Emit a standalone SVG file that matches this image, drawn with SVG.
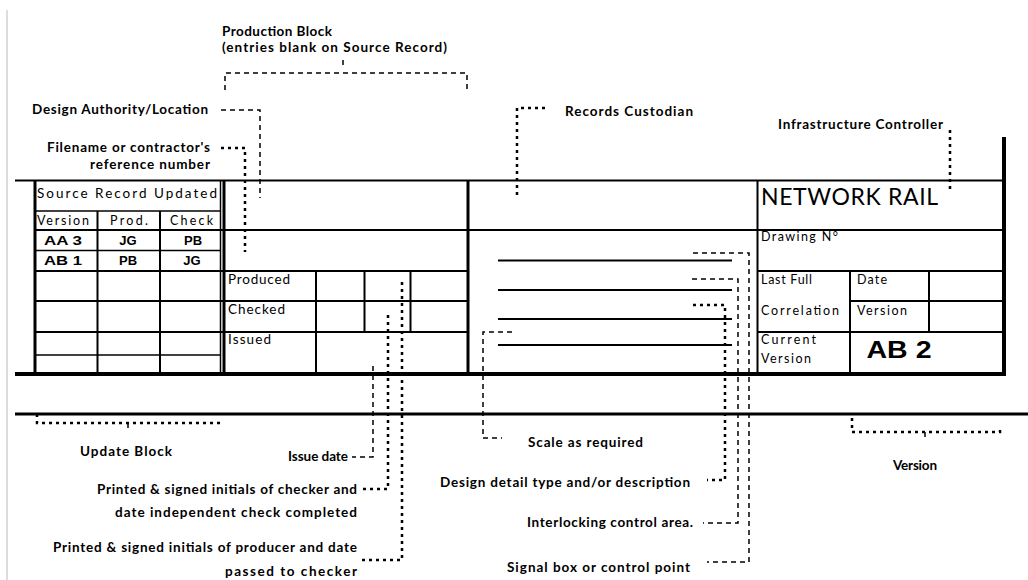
<svg xmlns="http://www.w3.org/2000/svg" width="1028" height="580" viewBox="0 0 1028 580">
<style>
.bg{fill:#ffffff}
.ln{stroke:#000;stroke-width:2;fill:none}
.ln1{stroke:#000;stroke-width:1.5;fill:none}
.lnk{stroke:#000;stroke-width:3;fill:none}
.lnx{stroke:#000;stroke-width:4;fill:none}
.d1{stroke:#000;stroke-width:1.5;stroke-dasharray:5 4;fill:none}
.d2{stroke:#000;stroke-width:2.5;stroke-dasharray:3 4;fill:none}
.cl{font-family:Lato,"Liberation Sans",sans-serif;font-size:13.5px;font-weight:bold;fill:#000}
.cell{font-family:Lato,"Liberation Sans",sans-serif;font-size:13.5px;fill:#000}
.cells{font-family:Lato,"Liberation Sans",sans-serif;font-size:12.5px;fill:#000}
.big{font-family:Lato,"Liberation Sans",sans-serif;font-size:23px;fill:#000}
.ar{font-family:"Liberation Sans",Arial,sans-serif;font-weight:bold;fill:#000;text-anchor:middle}
</style>
<rect class="bg" x="0" y="0" width="1028" height="580"/>
<line x1="7" y1="10" x2="7" y2="580" stroke="#d0d0d0" stroke-width="1.5"/>

<g id="title-block">
  <line class="ln" x1="15" y1="180.5" x2="1006" y2="180.5"/>
  <line class="lnx" x1="15" y1="374" x2="1006" y2="374"/>
  <line class="lnk" x1="15" y1="414" x2="1028" y2="414"/>
  <line class="ln1" x1="35" y1="211" x2="220" y2="211"/>
  <line class="ln" x1="35" y1="230" x2="1004" y2="230"/>
  <line class="ln1" x1="35" y1="250.5" x2="220" y2="250.5"/>
  <line class="ln" x1="35" y1="271" x2="468" y2="271"/>
  <line class="ln" x1="757" y1="271" x2="1004" y2="271"/>
  <line class="ln" x1="35" y1="301" x2="468" y2="301"/>
  <line class="ln" x1="850" y1="301" x2="1004" y2="301"/>
  <line class="ln" x1="35" y1="332" x2="468" y2="332"/>
  <line class="ln" x1="757" y1="332" x2="1004" y2="332"/>
  <line class="ln1" x1="35" y1="355" x2="220" y2="355"/>
  <line class="lnk" x1="35" y1="180" x2="35" y2="374"/>
  <line class="ln" x1="97.5" y1="211" x2="97.5" y2="374"/>
  <line class="ln" x1="160" y1="211" x2="160" y2="374"/>
  <line class="ln1" x1="220.5" y1="180" x2="220.5" y2="374"/>
  <line class="lnk" x1="224" y1="180" x2="224" y2="374"/>
  <line class="ln" x1="316" y1="271" x2="316" y2="374"/>
  <line class="ln" x1="364.5" y1="271" x2="364.5" y2="332"/>
  <line class="ln" x1="410.5" y1="271" x2="410.5" y2="332"/>
  <line class="lnk" x1="468" y1="180" x2="468" y2="374"/>
  <line class="ln" x1="757.5" y1="180" x2="757.5" y2="374"/>
  <line class="ln" x1="850" y1="271" x2="850" y2="374"/>
  <line class="ln" x1="929" y1="271" x2="929" y2="332"/>
  <line class="lnx" x1="1004" y1="137" x2="1004" y2="376"/>
  <line class="ln" x1="498" y1="260.5" x2="732" y2="260.5"/>
  <line class="ln" x1="498" y1="290" x2="732" y2="290"/>
  <line class="ln" x1="498" y1="319" x2="732" y2="319"/>
  <line class="ln" x1="498" y1="345" x2="732" y2="345"/>
</g>

<g id="update-block-cells">
  <text class="cell" x="37" y="198" font-size="15.5" textLength="180" lengthAdjust="spacing">Source Record Updated</text>
  <text class="cells" x="37" y="225" textLength="52" lengthAdjust="spacing">Version</text>
  <text class="cells" x="110" y="225" textLength="38" lengthAdjust="spacing">Prod.</text>
  <text class="cells" x="170" y="225" textLength="43" lengthAdjust="spacing">Check</text>
  <text class="ar" x="63" y="245" font-size="13" textLength="38" lengthAdjust="spacingAndGlyphs">AA 3</text>
  <text class="ar" x="128" y="245" font-size="13">JG</text>
  <text class="ar" x="193" y="245" font-size="13">PB</text>
  <text class="ar" x="63" y="265" font-size="13" textLength="38" lengthAdjust="spacingAndGlyphs">AB 1</text>
  <text class="ar" x="128" y="265" font-size="13">PB</text>
  <text class="ar" x="192" y="265" font-size="13">JG</text>
</g>

<g id="production-block-cells">
  <text class="cell" x="228" y="284" textLength="62" lengthAdjust="spacing">Produced</text>
  <text class="cell" x="228" y="314" textLength="57" lengthAdjust="spacing">Checked</text>
  <text class="cell" x="228" y="344" textLength="43" lengthAdjust="spacing">Issued</text>
</g>

<g id="network-rail-block">
  <text class="big" x="761" y="205" textLength="177" lengthAdjust="spacing">NETWORK RAIL</text>
  <text class="cells" x="761" y="241" textLength="77" lengthAdjust="spacing">Drawing N°</text>
  <text class="cells" x="761" y="284" textLength="51" lengthAdjust="spacing">Last Full</text>
  <text class="cells" x="761" y="315" textLength="78" lengthAdjust="spacing">Correlation</text>
  <text class="cells" x="857" y="284" textLength="30" lengthAdjust="spacing">Date</text>
  <text class="cells" x="857" y="315" textLength="50" lengthAdjust="spacing">Version</text>
  <text class="cells" x="761" y="344" textLength="55" lengthAdjust="spacing">Current</text>
  <text class="cells" x="761" y="363" textLength="50" lengthAdjust="spacing">Version</text>
  <text class="ar" x="899" y="358" font-size="24" textLength="65" lengthAdjust="spacingAndGlyphs">AB 2</text>
</g>

<g id="connectors">
  <line class="d1" x1="343" y1="60" x2="343" y2="66"/>
  <polyline class="d1" points="225,90 225,73 467,73 467,90" stroke-dasharray="8 5"/>
  <polyline class="d1" points="221,110 260,110 260,198"/>
  <polyline class="d2" points="221,148 245,148 245,252"/>
  <polyline class="d2" points="545,108 517,108 517,196"/>
  <line class="d2" x1="950" y1="130" x2="950" y2="192"/>
  <polyline class="d2" points="37,414 37,423 223,423"/>
  <line class="d1" x1="128" y1="423" x2="128" y2="432"/>
  <polyline class="d1" points="373,366 373,457 352,457"/>
  <polyline class="d2" points="388,315 388,489 362,489"/>
  <polyline class="d2" points="402,282 402,560 362,560"/>
  <polyline class="d1" points="512,332 483,332 483,438 502,438"/>
  <polyline class="d2" points="693,305 725,305 725,480 707,480"/>
  <polyline class="d1" points="692,279 738,279 738,523 703,523"/>
  <polyline class="d1" points="693,253 749,253 749,562 707,562"/>
  <polyline class="d2" points="852,418 852,432 1000,432 1000,426"/>
  <line class="d1" x1="925" y1="432" x2="925" y2="441"/>
</g>

<g id="label-production-block">
  <text class="cl" x="222" y="36" textLength="110" lengthAdjust="spacing">Production Block</text>
  <text class="cl" x="222" y="52" textLength="225" lengthAdjust="spacing">(entries blank on Source Record)</text>
</g>
<g id="label-design-authority"><text class="cl" x="32" y="114" textLength="176" lengthAdjust="spacing">Design Authority/Location</text></g>
<g id="label-filename">
  <text class="cl" x="47" y="152" textLength="163" lengthAdjust="spacing">Filename or contractor's</text>
  <text class="cl" x="90" y="169" textLength="120" lengthAdjust="spacing">reference number</text>
</g>
<g id="label-records-custodian"><text class="cl" x="565" y="116" textLength="128" lengthAdjust="spacing">Records Custodian</text></g>
<g id="label-infrastructure-controller"><text class="cl" x="778" y="129" textLength="165" lengthAdjust="spacing">Infrastructure Controller</text></g>
<g id="label-update-block"><text class="cl" x="80" y="456" textLength="92" lengthAdjust="spacing">Update Block</text></g>
<g id="label-issue-date"><text class="cl" x="288" y="461" textLength="60" lengthAdjust="spacing">Issue date</text></g>
<g id="label-checker">
  <text class="cl" x="97" y="494" textLength="260" lengthAdjust="spacing">Printed &amp; signed initials of checker and</text>
  <text class="cl" x="115" y="517" textLength="242" lengthAdjust="spacing">date independent check completed</text>
</g>
<g id="label-producer">
  <text class="cl" x="53" y="552" textLength="304" lengthAdjust="spacing">Printed &amp; signed initials of producer and date</text>
  <text class="cl" x="225" y="576" textLength="132" lengthAdjust="spacing">passed to checker</text>
</g>
<g id="label-scale"><text class="cl" x="528" y="447" textLength="115" lengthAdjust="spacing">Scale as required</text></g>
<g id="label-design-detail"><text class="cl" x="440" y="487" textLength="250" lengthAdjust="spacing">Design detail type and/or description</text></g>
<g id="label-interlocking"><text class="cl" x="527" y="527" textLength="166" lengthAdjust="spacing">Interlocking control area.</text></g>
<g id="label-signal-box"><text class="cl" x="507" y="572" textLength="183" lengthAdjust="spacing">Signal box or control point</text></g>
<g id="label-version"><text class="cl" x="893" y="470" textLength="44" lengthAdjust="spacing">Version</text></g>
</svg>
